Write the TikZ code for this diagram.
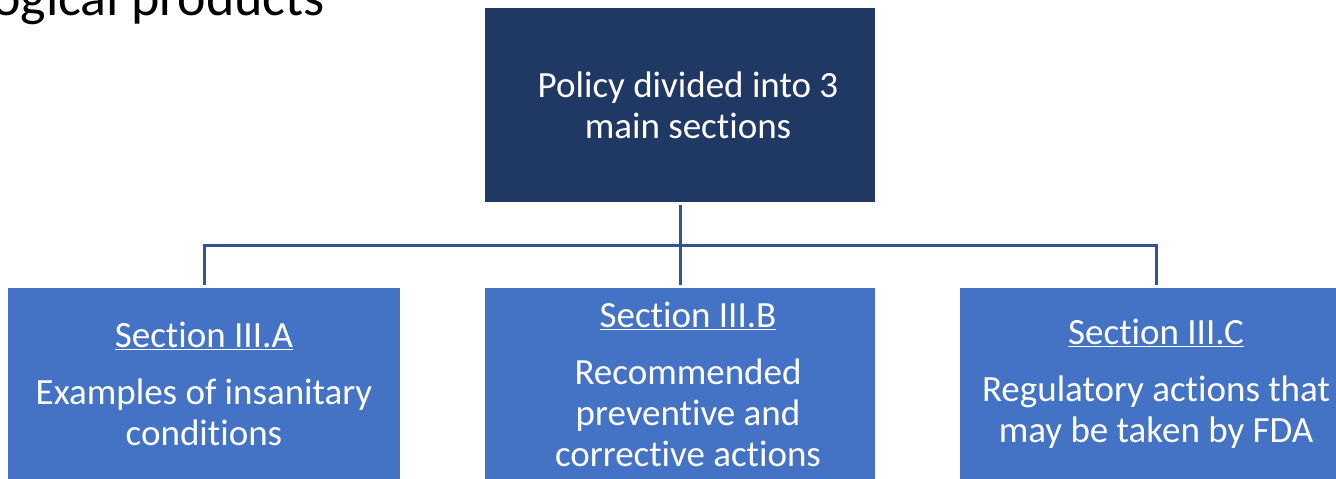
\documentclass[tikz,border=0pt]{standalone}
\usepackage{fontspec}
\setmainfont[Ligatures={NoCommon}]{Carlito}
\usetikzlibrary{positioning}

\definecolor{navybox}{RGB}{32,56,100}
\definecolor{secblue}{RGB}{68,114,196}
\definecolor{connblue}{RGB}{47,85,151}

\tikzset{
	topbox/.style={fill=navybox, text=white, minimum width=390pt, minimum height=194pt, align=center, inner sep=0pt, font=\fontsize{37}{41}\selectfont},
	secbox/.style={fill=secblue, text=white, minimum width=392pt, minimum height=192pt, align=center, inner sep=0pt, font=\fontsize{37}{41}\selectfont},
	conn/.style={draw=connblue, line width=3pt, shorten <=3pt, shorten >=3pt}
}

\begin{document}
\begin{tikzpicture}[x=1pt,y=-1pt]
	\useasboundingbox (0,0) rectangle (1336,479);
	% title cut off at the top of the slide
	\node [anchor=base west, inner sep=0pt, font=\fontsize{54}{60}\selectfont] (slidetitle) at (-8,15) {ogical products};
	% boxes
	\node [topbox] (policy) at (680,105) {\hspace*{16pt}Policy divided into 3\\\hspace*{16pt}main sections};
	\node [secbox] (secA) at (204,384) {\underline{Section III.A}\\[16pt]Examples of insanitary\\conditions};
	\node [secbox, minimum width=390pt] (secB) at (680,384) {\hspace*{16pt}\underline{Section III.B}\\[16pt]\hspace*{16pt}Recommended\\\hspace*{16pt}preventive and\\\hspace*{16pt}corrective actions};
	\node [secbox] (secC) at (1156,384) {\underline{Section III.C}\\[16pt]Regulatory actions that\\may be taken by FDA};
	% connectors
	\coordinate (bus) at (680,245);
	\draw [conn] (policy) -- (secB);
	\draw [conn] (secA.north) |- (bus) -| (secC.north);
\end{tikzpicture}
\end{document}
